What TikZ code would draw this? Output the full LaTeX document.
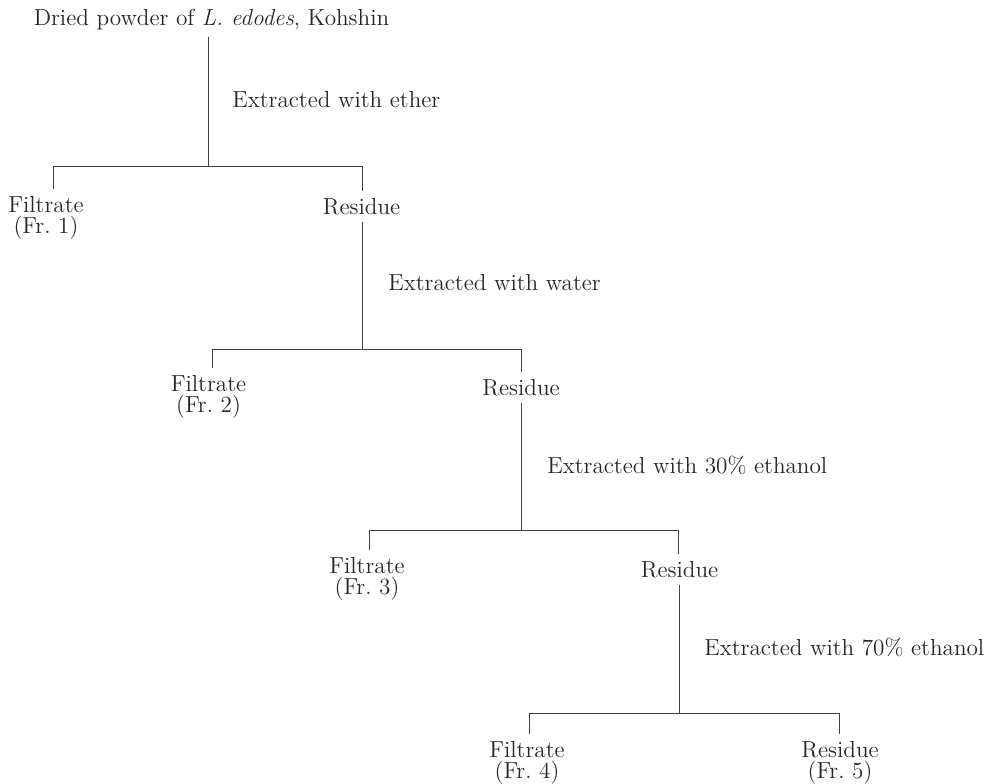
\documentclass[tikz,border=0pt]{standalone}
\begin{document}
\frenchspacing
\begin{tikzpicture}[x=0.5pt,y=-0.5pt,
  txt/.style={font=\fontsize{11.6}{10.5}\selectfont, inner sep=0pt, align=center, text=black!85},
  lab/.style={txt, anchor=west},
  ln/.style={draw=black!75, line width=0.45pt}]
\useasboundingbox (0,0) rectangle (989,783);
% nodes
\node[txt] (top) at (211.5,20) {Dried powder of \textit{L. edodes}, Kohshin};
\node[txt] (f1) at (46,217.5) {Filtrate\\(Fr. 1)};
\node[txt] (r1) at (361.5,207) {Residue};
\node[txt] (f2) at (208.5,396.5) {Filtrate\\(Fr. 2)};
\node[txt] (r2) at (521,388) {Residue};
\node[txt] (f3) at (367,578.5) {Filtrate\\(Fr. 3)};
\node[txt] (r3) at (679.5,570) {Residue};
\node[txt] (f4) at (527,762.5) {Filtrate\\(Fr. 4)};
\node[txt] (r4) at (840,762.5) {Residue\\(Fr. 5)};
% labels
\node[lab] (l1) at (232,100) {Extracted with ether};
\node[lab] (l2) at (388,283) {Extracted with water};
\node[lab] (l3) at (547,465) {Extracted with 30\% ethanol};
\node[lab] (l4) at (704,647) {Extracted with 70\% ethanol};
% bar coordinates
\coordinate (b1) at (208,166);
\coordinate (b1l) at (53,166);
\coordinate (b1r) at (362,166);
\coordinate (b2) at (362,349);
\coordinate (b2l) at (212,349);
\coordinate (b2r) at (521,349);
\coordinate (b3) at (521,530);
\coordinate (b3l) at (369,530);
\coordinate (b3r) at (678,530);
\coordinate (b4) at (679,713);
\coordinate (b4l) at (529,713);
\coordinate (b4r) at (839,713);
% connectors
\draw[ln] ([yshift=-3pt]top.south -| b1) -- (b1);
\draw[ln] (b1l) -- (b1r);
\draw[ln] (b1l) -- ([yshift=3.5pt]b1l |- f1.north);
\draw[ln] (b1r) -- ([yshift=3.5pt]b1r |- r1.north);
\draw[ln] ([yshift=-3pt]r1.south -| b2) -- (b2);
\draw[ln] (b2l) -- (b2r);
\draw[ln] (b2l) -- ([yshift=3.5pt]b2l |- f2.north);
\draw[ln] (b2r) -- ([yshift=3.5pt]b2r |- r2.north);
\draw[ln] ([yshift=-3pt]r2.south -| b3) -- (b3);
\draw[ln] (b3l) -- (b3r);
\draw[ln] (b3l) -- ([yshift=3.5pt]b3l |- f3.north);
\draw[ln] (b3r) -- ([yshift=3.5pt]b3r |- r3.north);
\draw[ln] ([yshift=-3pt]r3.south -| b4) -- (b4);
\draw[ln] (b4l) -- (b4r);
\draw[ln] (b4l) -- ([yshift=3.5pt]b4l |- f4.north);
\draw[ln] (b4r) -- ([yshift=3.5pt]b4r |- r4.north);
\end{tikzpicture}
\end{document}
